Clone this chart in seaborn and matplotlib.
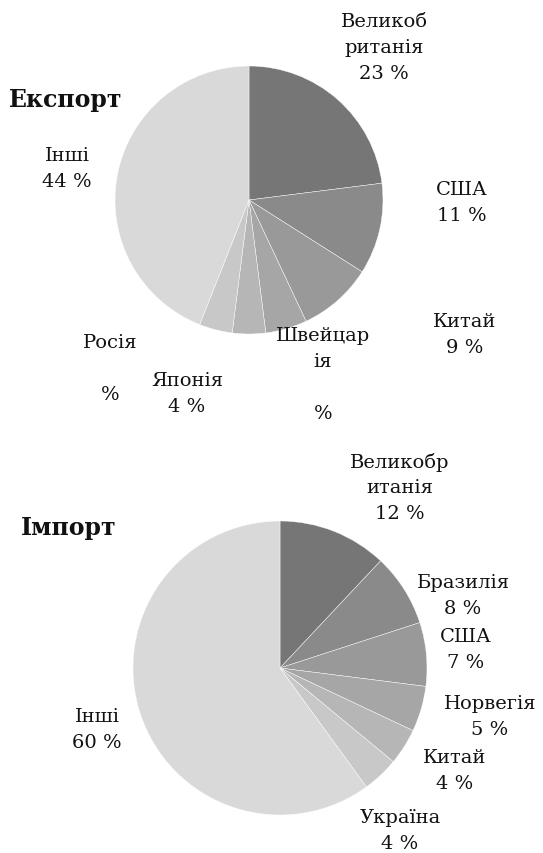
import matplotlib
matplotlib.use("Agg")
import matplotlib.pyplot as plt
import seaborn as sns

sns.set_theme(style="white")
plt.rcParams["font.family"] = ["DejaVu Serif", "DejaVu Sans"]

W, H = 543, 854
FONT = 14

# export structure, %
exp_labels = ["Великоб\nританія\n23 %", "США\n11 %", "Китай\n9 %",
              "Швейцар\nія\n\n%", "Японія\n4 %", "Росія\n\n%", "Інші\n44 %"]
exp_values = [23, 11, 9, 5, 4, 4, 44]

# import structure, %
imp_labels = ["Великобр\nитанія\n12 %", "Бразилія\n8 %", "США\n7 %",
              "Норвегія\n5 %", "Китай\n4 %", "Україна\n4 %", "Інші\n60 %"]
imp_values = [12, 8, 7, 5, 4, 4, 60]

greys = ["#767676", "#8a8a8a", "#999999", "#a6a6a6", "#b6b6b6", "#c8c8c8", "#d9d9d9"]

# label centres in pixels (x, y from top)
exp_pos = [(384, 48), (462, 203), (465, 335), (323, 375),
           (187, 394), (110, 369), (67, 169)]
imp_pos = [(400, 488), (463, 596), (466, 650), (490, 717),
           (455, 771), (400, 831), (97, 730)]


def px_axes(fig, cx, cy, r):
    return fig.add_axes([(cx - r) / W, (H - cy - r) / H, 2 * r / W, 2 * r / H])


def draw_pie(fig, values, labels, pos, centre, r, title, title_pos):
    ax = px_axes(fig, centre[0], centre[1], r)
    ax.pie(values, colors=greys, startangle=90, counterclock=False,
           wedgeprops=dict(edgecolor="white", linewidth=0.3))
    ax.set_xlim(-1, 1)
    ax.set_ylim(-1, 1)
    ax.set_aspect("equal")
    ax.axis("off")
    for text, (x, y) in zip(labels, pos):
        fig.text(x / W, 1 - y / H, text, ha="center", va="center",
                 fontsize=FONT, linespacing=1.55, color="#111111")
    fig.text(title_pos[0] / W, 1 - title_pos[1] / H, title, ha="left",
             va="center", fontsize=FONT + 3, fontweight="bold", color="#111111")


fig = plt.figure(figsize=(W / 100, H / 100), dpi=100)
draw_pie(fig, exp_values, exp_labels, exp_pos, (249, 201), 134, "Експорт", (9, 100))
draw_pie(fig, imp_values, imp_labels, imp_pos, (280, 669), 147, "Імпорт", (21, 528))
fig.savefig("out.png", dpi=100, facecolor="white")
